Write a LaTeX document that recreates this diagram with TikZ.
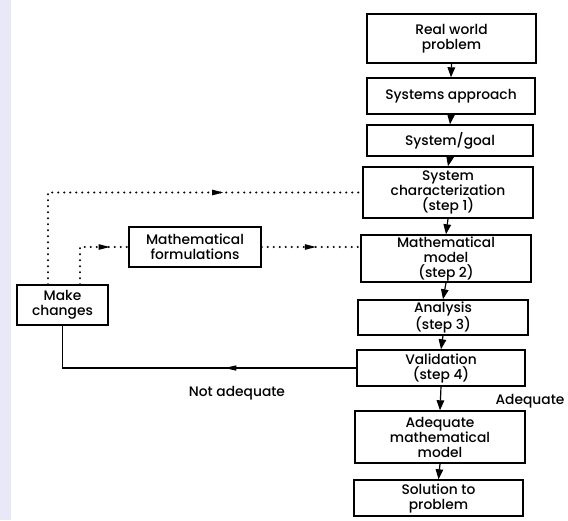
\documentclass[tikz,border=0pt]{standalone}
\usepackage{fontspec}
\setmainfont{Poppins}[UprightFont=* Medium]
\usetikzlibrary{arrows.meta,decorations.markings,calc}
\definecolor{scanedge}{RGB}{232,232,246}
\begin{document}
\begin{tikzpicture}[x=1pt,y=-1pt,
  box/.style={draw,line width=1.4pt,inner sep=0pt,align=center,font=\fontsize{13.8}{15}\selectfont},
  flow/.style={line width=1.2pt,-{Triangle[width=7.5pt,length=10pt]}},
  dotline/.style={line width=2.2pt,dash pattern=on 0pt off 6pt,line cap=round},
  midarrow/.style={postaction={decorate},decoration={markings,mark=at position #1 with {\arrow[solid]{Triangle[width=5pt,length=12pt]}}}},
  lbl/.style={font=\fontsize{13.8}{15}\selectfont}
]
\useasboundingbox (0,0) rectangle (568,520);
\fill[white] (0,0) rectangle (568,520);
\fill[scanedge] (0,0) rectangle (11,520);

\node[box,minimum width=169pt,minimum height=49pt] (rw) at (451.5,38.5) {Real world\\problem};
\node[box,minimum width=168pt,minimum height=36pt] (sa) at (451,96) {Systems approach};
\node[box,minimum width=166pt,minimum height=31pt] (sg) at (450,140.5) {System/goal};
\node[box,minimum width=170pt,minimum height=51pt] (sc) at (448,192.5) {System\\characterization\\(step 1)};
\node[box,minimum width=170pt,minimum height=47pt] (mm) at (446,258.5) {Mathematical\\model\\(step 2)};
\node[box,minimum width=170pt,minimum height=35pt] (an) at (443,317.5) {Analysis\\(step 3)};
\node[box,minimum width=168pt,minimum height=36pt] (va) at (441,368) {Validation\\(step 4)};
\node[box,minimum width=170pt,minimum height=52pt] (aq) at (440,437) {Adequate\\mathematical\\model};
\node[box,minimum width=169pt,minimum height=36pt] (so) at (438.5,498) {Solution to\\problem};
\node[box,minimum width=91pt,minimum height=40pt] (mc) at (62.5,305) {Make\\changes};
\node[box,minimum width=132pt,minimum height=40pt] (mf) at (195,247) {Mathematical\\formulations};

\node[lbl] (na) at (237,393) {Not adequate};
\node[lbl] (ad) at (530,401) {Adequate};

\draw[flow] (rw.south) -- (sa.north);
\draw[flow] (sa.south) -- (sg.north);
\draw[flow] (sg.south) -- (sc.north);
\draw[flow] (sc.south) -- (mm.north);
\draw[flow] (mm.south) -- (an.north);
\draw[flow] (an.south) -- (va.north);
\draw[flow] (va.south) -- (aq.north);
\draw[flow] (aq.south) -- (so.north);

\coordinate (c1) at ([xshift=-14.5pt]mc.north);
\coordinate (c2) at ([xshift=17.5pt]mc.north);
\draw[dotline,midarrow=268pt] (c1) -- (c1 |- sc.west) -- (sc.west);
\draw[dotline,midarrow=68pt] (c2) -- (c2 |- mf.west) -- (mf.west);
\draw[dotline,midarrow=0.56] (mf.east) -- (mf.east -| mm.west);
\draw[line width=1.2pt,midarrow=132pt] (va.west) -- (va.west -| mc.south) -- (mc.south);
\end{tikzpicture}
\end{document}
